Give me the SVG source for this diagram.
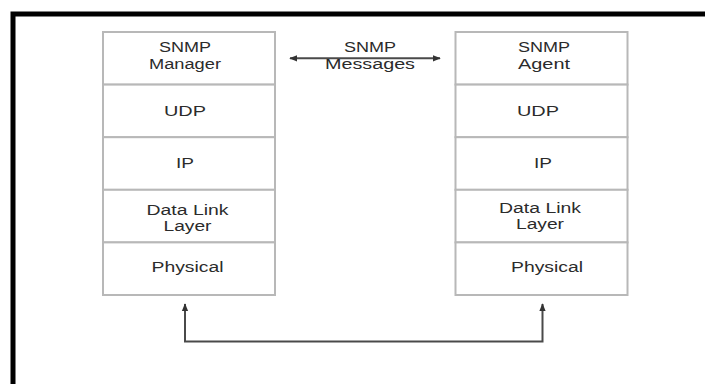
<svg xmlns="http://www.w3.org/2000/svg" width="705" height="384" viewBox="0 0 705 384">
<defs>
<style>
.box{fill:#fff;stroke:#b8b8b8;stroke-width:2}
.t{font-family:"Liberation Sans",Arial,sans-serif;font-size:14px;fill:#2b2b2b;text-anchor:middle}
.c{fill:none;stroke:#4a4a4a;stroke-width:2}
</style>
<marker id="ah" viewBox="0 0 10 10" refX="9" refY="5" markerWidth="4" markerHeight="4" orient="auto-start-reverse" markerUnits="strokeWidth">
<path d="M0,1 L10,5 L0,9 Z" fill="#333"/>
</marker>
</defs>
<rect x="0" y="0" width="705" height="384" fill="#fff"/>
<rect x="13" y="14" width="800" height="500" fill="none" stroke="#000" stroke-width="5"/>

<g id="manager-snmp"><rect class="box" x="103" y="32" width="172" height="52.6"/>
<text class="t" x="185" y="52" textLength="52" lengthAdjust="spacingAndGlyphs">SNMP</text>
<text class="t" x="185" y="69" textLength="72" lengthAdjust="spacingAndGlyphs">Manager</text></g>
<g id="manager-udp"><rect class="box" x="103" y="84.6" width="172" height="52.6"/>
<text class="t" x="185" y="115.5" textLength="42" lengthAdjust="spacingAndGlyphs">UDP</text></g>
<g id="manager-ip"><rect class="box" x="103" y="137.2" width="172" height="52.6"/>
<text class="t" x="185" y="168" textLength="18" lengthAdjust="spacingAndGlyphs">IP</text></g>
<g id="manager-dll"><rect class="box" x="103" y="189.8" width="172" height="52.6"/>
<text class="t" x="187.5" y="214.5" textLength="82" lengthAdjust="spacingAndGlyphs">Data Link</text>
<text class="t" x="187.5" y="231" textLength="48" lengthAdjust="spacingAndGlyphs">Layer</text></g>
<g id="manager-phy"><rect class="box" x="103" y="242.4" width="172" height="52.6"/>
<text class="t" x="187.5" y="272" textLength="72" lengthAdjust="spacingAndGlyphs">Physical</text></g>

<g id="agent-snmp"><rect class="box" x="455.5" y="32" width="172" height="52.6"/>
<text class="t" x="544" y="52" textLength="52" lengthAdjust="spacingAndGlyphs">SNMP</text>
<text class="t" x="544" y="69" textLength="52" lengthAdjust="spacingAndGlyphs">Agent</text></g>
<g id="agent-udp"><rect class="box" x="455.5" y="84.6" width="172" height="52.6"/>
<text class="t" x="538" y="115.5" textLength="42" lengthAdjust="spacingAndGlyphs">UDP</text></g>
<g id="agent-ip"><rect class="box" x="455.5" y="137.2" width="172" height="52.6"/>
<text class="t" x="543" y="168" textLength="18" lengthAdjust="spacingAndGlyphs">IP</text></g>
<g id="agent-dll"><rect class="box" x="455.5" y="189.8" width="172" height="52.6"/>
<text class="t" x="540" y="213" textLength="82" lengthAdjust="spacingAndGlyphs">Data Link</text>
<text class="t" x="540" y="229" textLength="48" lengthAdjust="spacingAndGlyphs">Layer</text></g>
<g id="agent-phy"><rect class="box" x="455.5" y="242.4" width="172" height="52.6"/>
<text class="t" x="547" y="272" textLength="72" lengthAdjust="spacingAndGlyphs">Physical</text></g>

<g id="connectors">
<line class="c" x1="290" y1="58.3" x2="440" y2="58.3" marker-start="url(#ah)" marker-end="url(#ah)"/>
<text class="t" x="370" y="52" textLength="52" lengthAdjust="spacingAndGlyphs">SNMP</text>
<text class="t" x="370" y="69" textLength="90" lengthAdjust="spacingAndGlyphs">Messages</text>
<path class="c" d="M185,304 L185,341.5 L542.5,341.5 L542.5,304" marker-start="url(#ah)" marker-end="url(#ah)"/>
</g>
</svg>
